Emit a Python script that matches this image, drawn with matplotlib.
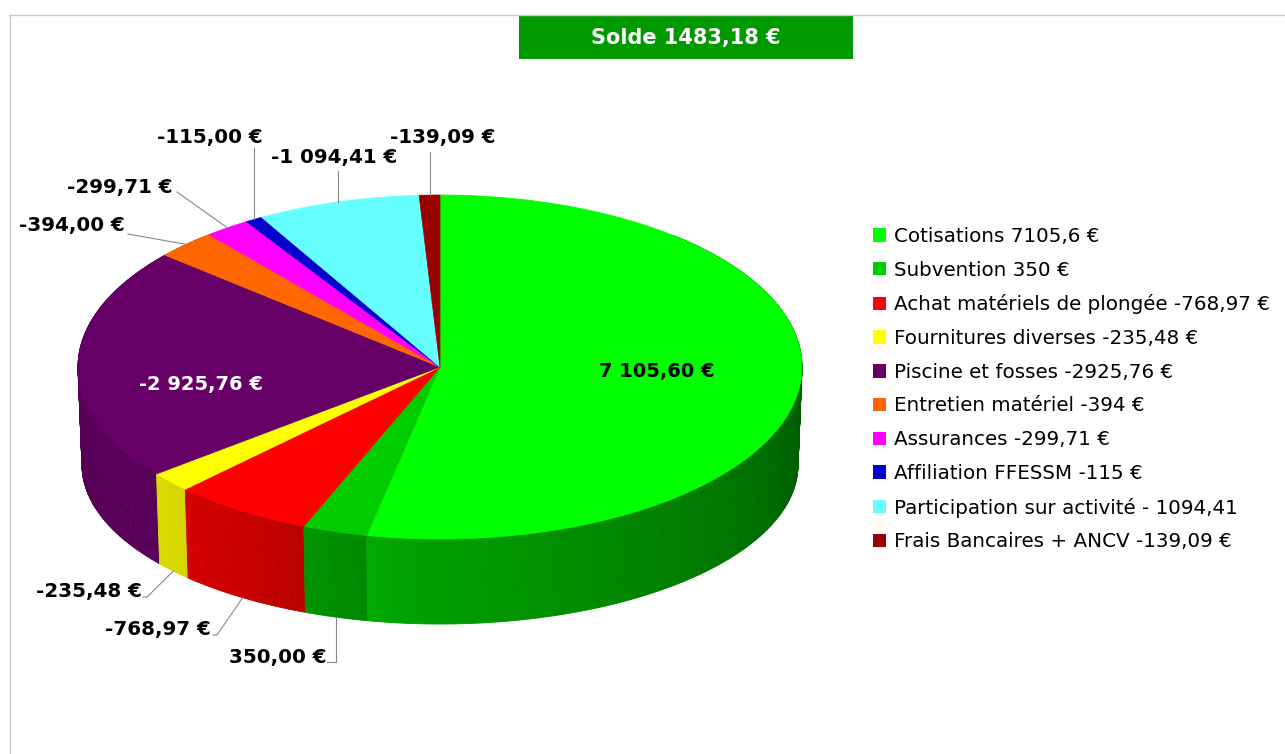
import numpy as np
import matplotlib.pyplot as plt
from matplotlib.patches import Polygon, Rectangle, Patch
from matplotlib.collections import PolyCollection
from matplotlib.colors import to_rgb

# data
names = ["Cotisations 7105,6 €", "Subvention 350 €",
         "Achat matériels de plongée -768,97 €", "Fournitures diverses -235,48 €",
         "Piscine et fosses -2925,76 €", "Entretien matériel -394 €",
         "Assurances -299,71 €", "Affiliation FFESSM -115 €",
         "Participation sur activité - 1094,41", "Frais Bancaires + ANCV -139,09 €"]
amounts = [7105.60, 350.00, -768.97, -235.48, -2925.76, -394.00, -299.71, -115.00, -1094.41, -139.09]
colors = ["#00ff00", "#00cc00", "#ff0000", "#ffff00", "#660066",
          "#ff6600", "#ff00ff", "#0000cc", "#66ffff", "#990000"]


def euro(v, sep=" "):
    s = f"{abs(v):,.2f}".replace(",", sep).replace(".", ",")
    return ("-" if v < 0 else "") + s + " €"


W, H = 1285, 754
fig = plt.figure(figsize=(W / 100, H / 100), dpi=100)
ax = fig.add_axes([0, 0, 1, 1])
ax.set_xlim(0, W)
ax.set_ylim(H, 0)
ax.axis("off")

# frame lines of the chart area
ax.plot([10, 10], [H, 15], color="#c8c8c8", lw=1)
ax.plot([10, 1284], [15, 15], color="#c8c8c8", lw=1)

# title box
ax.add_patch(Rectangle((519, 15), 334, 44, facecolor="#009900", edgecolor="none"))
ax.text(686, 38, "Solde " + euro(sum(amounts), sep=""),
        color="white", fontsize=15, fontweight="bold", ha="center", va="center")

# pie geometry in pixels (top rim and bottom rim, a bit of perspective)
cx = 440
top = (367, 362, 172)
bot = (465, 358, 159)
skew = 6.5


def warp(t):
    return t - skew * np.sin(np.radians(t))


def rim(t, geo):
    cy, rx, ry = geo
    a = np.radians(warp(np.asarray(t, dtype=float)))
    return cx + rx * np.sin(a), cy - ry * np.cos(a)


vals = np.abs(amounts)
edges = np.concatenate([[0], np.cumsum(vals)]) / vals.sum() * 360

# side walls
polys, fcols, keys = [], [], []
for i in range(len(vals)):
    a0, a1 = edges[i], edges[i + 1]
    n = max(2, int((a1 - a0) / 0.5))
    ts = np.linspace(a0, a1, n)
    base = np.array(to_rgb(colors[i]))
    for t0, t1 in zip(ts[:-1], ts[1:]):
        m = warp((t0 + t1) / 2)
        if m < 40 or m > 320:
            continue
        xt, yt = rim([t0, t1], top)
        xb, yb = rim([t1, t0], bot)
        polys.append(list(zip(np.r_[xt, xb], np.r_[yt, yb])))
        f = np.interp(m, [90, 100, 185, 215, 235, 270], [0.35, 0.38, 0.63, 0.8, 0.87, 0.83])
        fcols.append(tuple(base * f))
        keys.append(-np.cos(np.radians(m)))
order = np.argsort(keys)
pc = PolyCollection([polys[k] for k in order], facecolors=[fcols[k] for k in order],
                    edgecolors=[fcols[k] for k in order], linewidths=0.6)
ax.add_collection(pc)

# top faces
for i in range(len(vals)):
    ts = np.linspace(edges[i], edges[i + 1], max(3, int(edges[i + 1] - edges[i]) * 2))
    x, y = rim(ts, top)
    pts = np.column_stack([np.r_[cx, x], np.r_[top[0], y]])
    ax.add_patch(Polygon(pts, closed=True, facecolor=colors[i], edgecolor=colors[i], lw=0.5))

# labels inside slices: index -> (radius fraction, dy, colour)
inner = {0: (0.60, 7, "black"), 4: (0.66, 22, "white")}
# labels outside: index -> (text centre, leader points; None x = vertical leader)
outer = {1: ((278, 657), [(None, 662), (327, 662)]),
         2: ((158, 630), [(217, 635), (213, 635)]),
         3: ((89, 592), [(147, 597), (143, 597)]),
         5: ((72, 225), [(128, 234)]),
         6: ((120, 188), [(177, 192)]),
         7: ((210, 137), [(None, 148)]),
         8: ((334, 158), [(None, 171)]),
         9: ((443, 138), [(None, 152)])}

for i in range(len(vals)):
    mid = (edges[i] + edges[i + 1]) / 2
    txt = euro(amounts[i])
    if i in inner:
        r, dy, c = inner[i]
        a = np.radians(warp(mid))
        x = cx + r * top[1] * np.sin(a)
        y = top[0] - r * top[2] * np.cos(a) + dy
        ax.text(x, y, txt, color=c, fontsize=14, fontweight="bold", ha="center", va="center")
    else:
        (tx, ty), pts = outer[i]
        geo = bot if 150 < warp(mid) < 250 else top
        x0, y0 = rim(mid, geo)
        xs, ys = [float(x0)], [float(y0)]
        for px, py in pts:
            xs.append(xs[0] if px is None else px)
            ys.append(py)
        ax.plot(xs, ys, color="#888888", lw=0.8)
        ax.text(tx, ty, txt, color="black", fontsize=14.3, fontweight="bold", ha="center", va="center")

handles = [Patch(facecolor=c, edgecolor="none") for c in colors]
fig.legend(handles, names, loc="upper left", bbox_to_anchor=(873 / W, 1 - 227 / H),
           frameon=False, fontsize=14.3, handlelength=0.66, handleheight=0.66,
           handletextpad=0.38, labelspacing=0.74, borderpad=0, borderaxespad=0)

fig.savefig("out.png", dpi=100)
